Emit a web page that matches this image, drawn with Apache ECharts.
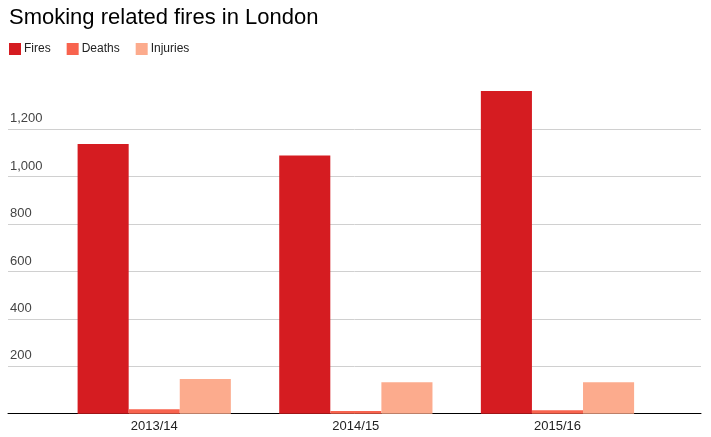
<!DOCTYPE html>
<html>
<head>
<meta charset="utf-8">
<script src="https://cdn.jsdelivr.net/npm/echarts@6/dist/echarts.min.js"></script>
<style>html,body{margin:0;padding:0;background:#fff;}#c{width:711px;height:437px;}</style>
</head>
<body>
<div id="c"></div>
<script>
var categories = ['2013/14', '2014/15', '2015/16'];
var fires = [1138, 1089, 1362];
var deaths = [19, 11, 15];
var injuries = [146, 133, 133];
var yTicks = [0, 200, 400, 600, 800, 1000, 1200];

var chart = echarts.init(document.getElementById('c'));
var FONT = 'Arial, "Liberation Sans", sans-serif';
chart.setOption({
  animation: false,
  backgroundColor: '#fff',
  title: {
    text: 'Smoking related fires in London',
    left: 4, top: 2,
    textStyle: { fontFamily: FONT, fontSize: 22, fontWeight: 'normal', color: '#000' }
  },
  legend: {
    left: 4, top: 38,
    icon: 'rect', itemWidth: 12, itemHeight: 12, itemGap: 16,
    textStyle: { fontFamily: FONT, fontSize: 12, color: '#222', padding: [0, 0, 0, -2] },
    data: ['Fires', 'Deaths', 'Injuries']
  },
  grid: [
    { left: 8, right: 10, top: 129.3, bottom: 23.3 },
    { left: 53.4, right: 52.7, top: 81.9, bottom: 23.3 }
  ],
  xAxis: [
    { type: 'value', gridIndex: 0, min: 0, max: 1, show: true,
      axisLine: { show: true, onZero: false, lineStyle: { color: '#000', width: 1 } },
      axisTick: { show: false }, axisLabel: { show: false }, splitLine: { show: false } },
    { type: 'category', gridIndex: 1, data: categories,
      axisLine: { show: false }, axisTick: { show: false },
      axisLabel: { margin: 6, fontFamily: FONT, fontSize: 13, color: '#222' } }
  ],
  yAxis: [
    { type: 'value', gridIndex: 0, min: yTicks[0], max: yTicks[yTicks.length - 1], interval: 200,
      axisLine: { show: false }, axisTick: { show: false },
      splitLine: { lineStyle: { color: '#d0d0d0', width: 1 } },
      axisLabel: { inside: true, margin: 2, showMinLabel: false, verticalAlign: 'bottom',
        padding: [0, 0, 4, 0], fontFamily: FONT, fontSize: 13, color: '#444' } },
    { type: 'value', gridIndex: 1, min: 0, max: 1400, show: false, splitLine: { show: false } }
  ],
  series: [
    { name: 'Fires', type: 'bar', xAxisIndex: 1, yAxisIndex: 1, data: fires,
      itemStyle: { color: '#d51c21' }, barGap: '0%', barCategoryGap: '24%' },
    { name: 'Deaths', type: 'bar', xAxisIndex: 1, yAxisIndex: 1, data: deaths,
      itemStyle: { color: '#f8634e' }, barGap: '0%', barCategoryGap: '24%' },
    { name: 'Injuries', type: 'bar', xAxisIndex: 1, yAxisIndex: 1, data: injuries,
      itemStyle: { color: '#fcab8d' }, barGap: '0%', barCategoryGap: '24%' }
  ]
});
</script>
</body>
</html>
